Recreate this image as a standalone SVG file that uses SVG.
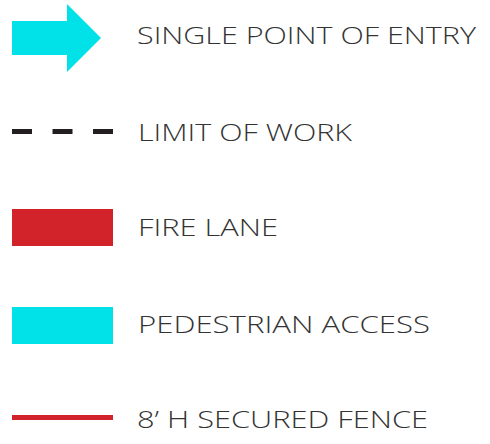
<svg xmlns="http://www.w3.org/2000/svg" width="490" height="444" viewBox="0 0 490 444">
<style>
.lbl{font-family:"Open Sans",Lato,"Liberation Sans",sans-serif;font-weight:300;font-size:24px;fill:#333333}
.cyan{fill:#00e1e8}
.red{fill:#d2232a}
</style>
<rect width="490" height="444" fill="#ffffff"/>
<g id="entry">
<polygon class="cyan" points="12,21 67,21 67,4 101,38 67,72 67,55 12,55"/>
<text class="lbl" x="137" y="44" textLength="339" lengthAdjust="spacingAndGlyphs">SINGLE POINT OF ENTRY</text>
</g>
<g id="limit">
<line x1="12" y1="131.5" x2="113" y2="131.5" stroke="#231f20" stroke-width="5" stroke-dasharray="20 20.5"/>
<text class="lbl" x="138" y="141" textLength="214" lengthAdjust="spacingAndGlyphs">LIMIT OF WORK</text>
</g>
<g id="fire">
<rect class="red" x="12" y="209" width="101" height="37"/>
<text class="lbl" x="138" y="236" textLength="140" lengthAdjust="spacingAndGlyphs">FIRE LANE</text>
</g>
<g id="ped">
<rect class="cyan" x="12" y="307" width="101" height="37"/>
<text class="lbl" x="138" y="333" textLength="292" lengthAdjust="spacingAndGlyphs">PEDESTRIAN ACCESS</text>
</g>
<g id="fence">
<rect class="red" x="12" y="415" width="101" height="5"/>
<text class="lbl" x="137" y="428" textLength="291" lengthAdjust="spacingAndGlyphs">8’ H SECURED FENCE</text>
</g>
</svg>
